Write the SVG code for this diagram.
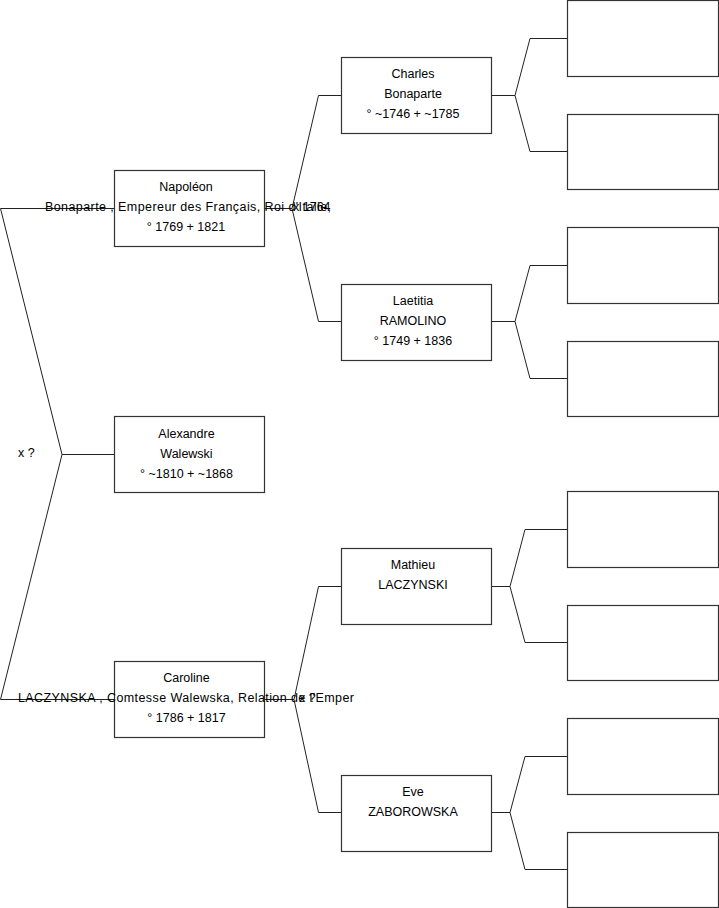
<svg xmlns="http://www.w3.org/2000/svg" width="719" height="908" viewBox="0 0 719 908">
<style>
.box{fill:#fff;stroke:#333;stroke-width:1.2}
.ln{fill:none;stroke:#222;stroke-width:1}
text{font-family:"Liberation Sans",Arial,sans-serif;font-size:12.5px;fill:#000}
.c{text-anchor:middle}
</style>
<rect width="719" height="908" fill="#fff"/>
<g id="connectors">
<path class="ln" d="M114,208.5H0.5L62,454.5L0.5,699.5H114"/>
<path class="ln" d="M62,454.5H114"/>
<path class="ln" d="M265,208.5H292M341,95.5H318.5L292,208.5L318.5,321.5H341"/>
<path class="ln" d="M265,699.5H294M341,586.5H318.5L294,699.5L318.5,812.5H341"/>
<path class="ln" d="M492,95.5H515M567,38.5H530L515,95.5L530,151.5H567"/>
<path class="ln" d="M492,321.5H515M567,265.5H530L515,321.5L530,378.5H567"/>
<path class="ln" d="M492,586.5H510M567,529.5H525L510,586.5L525,642.5H567"/>
<path class="ln" d="M492,812.5H510M567,756.5H525L510,812.5L525,869.5H567"/>
</g>
<g id="napoleon">
<rect class="box" x="114.5" y="170.5" width="150" height="76"/>
<text class="c" x="186" y="190.5">Napoléon</text>
<text x="45" y="210.5" textLength="286" lengthAdjust="spacing">Bonaparte , Empereur des Français, Roi d'Italie,</text>
<text class="c" x="186" y="230.5">° 1769 + 1821</text>
</g>
<g id="alexandre">
<rect class="box" x="114.5" y="416.5" width="150" height="76"/>
<text class="c" x="186.5" y="437.5">Alexandre</text>
<text class="c" x="186.5" y="457.5">Walewski</text>
<text class="c" x="186.5" y="477.5">° ~1810 + ~1868</text>
</g>
<g id="caroline">
<rect class="box" x="114.5" y="661.5" width="150" height="76"/>
<text class="c" x="186.5" y="682">Caroline</text>
<text x="18" y="702" textLength="336" lengthAdjust="spacing">LACZYNSKA , Comtesse Walewska, Relation de l'Emper</text>
<text class="c" x="186.5" y="722">° 1786 + 1817</text>
</g>
<g id="marriage-labels">
<text x="18" y="456.5">x ?</text>
<text x="293" y="210.5">x 1764</text>
<text x="299" y="702">x ?</text>
</g>
<g id="charles">
<rect class="box" x="341.5" y="57.5" width="150" height="76"/>
<text class="c" x="413" y="77.5">Charles</text>
<text class="c" x="413" y="97.5">Bonaparte</text>
<text class="c" x="413" y="117.5">° ~1746 + ~1785</text>
</g>
<g id="laetitia">
<rect class="box" x="341.5" y="284.5" width="150" height="76"/>
<text class="c" x="413" y="304.5">Laetitia</text>
<text class="c" x="413" y="324.5">RAMOLINO</text>
<text class="c" x="413" y="344.5">° 1749 + 1836</text>
</g>
<g id="mathieu">
<rect class="box" x="341.5" y="548.5" width="150" height="76"/>
<text class="c" x="413" y="568.5">Mathieu</text>
<text class="c" x="413" y="588.5">LACZYNSKI</text>
</g>
<g id="eve">
<rect class="box" x="341.5" y="775.5" width="150" height="76"/>
<text class="c" x="413" y="795.5">Eve</text>
<text class="c" x="413" y="815.5">ZABOROWSKA</text>
</g>
<g id="gp1"><rect class="box" x="567.5" y="0.5" width="151" height="76"/></g>
<g id="gp2"><rect class="box" x="567.5" y="114.5" width="151" height="75"/></g>
<g id="gp3"><rect class="box" x="567.5" y="227.5" width="151" height="76"/></g>
<g id="gp4"><rect class="box" x="567.5" y="341.5" width="151" height="75"/></g>
<g id="gp5"><rect class="box" x="567.5" y="491.5" width="151" height="76"/></g>
<g id="gp6"><rect class="box" x="567.5" y="605.5" width="151" height="75"/></g>
<g id="gp7"><rect class="box" x="567.5" y="718.5" width="151" height="76"/></g>
<g id="gp8"><rect class="box" x="567.5" y="832.5" width="151" height="75"/></g>
</svg>
